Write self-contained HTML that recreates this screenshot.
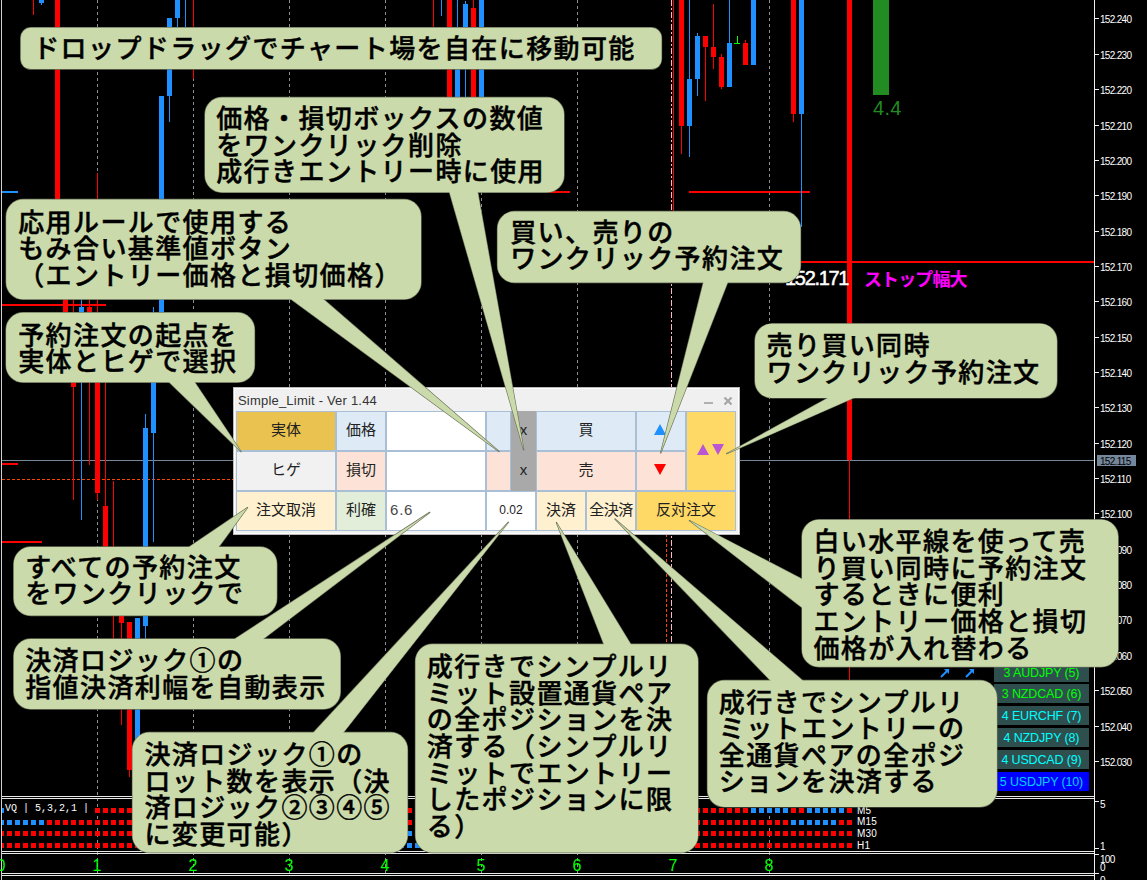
<!DOCTYPE html>
<html lang="ja"><head><meta charset="utf-8"><title>Simple_Limit</title>
<style>
html,body{margin:0;padding:0;background:#000;}
body{width:1147px;height:880px;position:relative;overflow:hidden;font-family:"Liberation Sans","Noto Sans CJK JP",sans-serif;}
#chart{position:absolute;left:0;top:0;}
.pl{position:absolute;left:1100px;color:#fff;font-size:10px;line-height:12px;letter-spacing:-0.7px;white-space:nowrap;}
.ax{position:absolute;top:856.5px;width:40px;margin-left:-20px;text-align:center;color:#00ff00;font-size:16px;line-height:18px;}
.tf{position:absolute;left:857px;color:#fff;font-size:10px;line-height:10px;letter-spacing:0.2px;}
.pair{position:absolute;left:994px;width:95px;height:19px;background:#2f4f4f;color:#00ff00;font-size:12.5px;line-height:20.5px;text-align:center;white-space:nowrap;letter-spacing:-0.15px;}
.pair.cy{color:#00ffff;}
.pair.bl{background:#0000ff;color:#00cfff;}
/* panel */
#panel{position:absolute;left:233px;top:387px;width:505px;height:146px;background:#f0f0f0;border:1px solid #b9b9b9;box-shadow:inset 0 0 0 1px #fff;}
#ptitle{position:absolute;left:4px;top:5px;font-size:13px;line-height:16px;color:#333;letter-spacing:0.2px;white-space:nowrap;}
.c{position:absolute;box-sizing:border-box;border:1px solid #a9bfd6;font-size:15px;color:#222;text-align:center;white-space:nowrap;font-family:"Liberation Sans","Noto Sans CJK JP",sans-serif;}
.r1{top:23px;height:40px;line-height:36px;}
.r2{top:63px;height:40px;line-height:36px;}
.r3{top:103px;height:40px;line-height:36px;}
.bub{position:absolute;left:0;top:0;}
.t{position:absolute;color:#000;font-family:"Liberation Sans","Noto Sans CJK JP",sans-serif;font-weight:500;font-size:26px;line-height:26.6px;white-space:nowrap;letter-spacing:1.4px;-webkit-text-stroke:0.45px #000;}
</style></head><body>
<svg id="chart" width="1147" height="880" viewBox="0 0 1147 880" shape-rendering="crispEdges">
<line x1="97.5" y1="0" x2="97.5" y2="874" stroke="#8a8f96" stroke-width="1" stroke-dasharray="3 3"/>
<line x1="193.5" y1="0" x2="193.5" y2="874" stroke="#8a8f96" stroke-width="1" stroke-dasharray="3 3"/>
<line x1="289.5" y1="0" x2="289.5" y2="874" stroke="#8a8f96" stroke-width="1" stroke-dasharray="3 3"/>
<line x1="385.5" y1="0" x2="385.5" y2="874" stroke="#8a8f96" stroke-width="1" stroke-dasharray="3 3"/>
<line x1="481.5" y1="0" x2="481.5" y2="874" stroke="#8a8f96" stroke-width="1" stroke-dasharray="3 3"/>
<line x1="577.5" y1="0" x2="577.5" y2="874" stroke="#8a8f96" stroke-width="1" stroke-dasharray="3 3"/>
<line x1="769.5" y1="0" x2="769.5" y2="874" stroke="#8a8f96" stroke-width="1" stroke-dasharray="3 3"/>
<line x1="671.5" y1="0" x2="671.5" y2="796" stroke="#ffb6c1" stroke-width="1" stroke-dasharray="6 2 2 2"/>
<line x1="666.5" y1="534" x2="666.5" y2="796" stroke="#ff4500" stroke-width="1" stroke-dasharray="3 2"/>
<rect x="2" y="460" width="1092" height="1" fill="#778899"/>
<line x1="2" y1="479.5" x2="240" y2="479.5" stroke="#ff4500" stroke-width="1" stroke-dasharray="3 2"/>
<rect x="800" y="261" width="294" height="2" fill="#ff0000"/>
<rect x="689" y="191" width="121" height="2" fill="#ff0000"/>
<rect x="549" y="191" width="21" height="2" fill="#ff0000"/>
<rect x="2" y="304" width="104" height="2" fill="#ff0000"/>
<rect x="2" y="463" width="16" height="2" fill="#ff0000"/>
<rect x="2" y="541" width="40" height="2" fill="#ff0000"/>
<rect x="2" y="191" width="16" height="2" fill="#1e90ff"/>
<rect x="33" y="0" width="1" height="15" fill="#ff0000"/>
<rect x="39" y="0" width="5" height="3" fill="#1e90ff"/>
<rect x="41" y="0" width="1" height="5" fill="#1e90ff"/>
<rect x="55" y="0" width="5" height="199" fill="#ff0000"/>
<rect x="97" y="173" width="1" height="26" fill="#ff0000"/>
<rect x="167" y="18" width="5" height="78" fill="#1e90ff"/>
<rect x="169" y="18" width="1" height="104" fill="#1e90ff"/>
<rect x="175" y="0" width="5" height="18" fill="#1e90ff"/>
<rect x="177" y="0" width="1" height="27" fill="#1e90ff"/>
<rect x="185" y="0" width="1" height="27" fill="#1e90ff"/>
<rect x="193" y="0" width="1" height="79" fill="#ff0000"/>
<rect x="159" y="96" width="5" height="234" fill="#1e90ff"/>
<rect x="63" y="299" width="5" height="13" fill="#ff0000"/>
<rect x="73" y="299" width="1" height="201" fill="#ff0000"/>
<rect x="71" y="380" width="5" height="7" fill="#ff0000"/>
<rect x="81" y="299" width="1" height="221" fill="#1e90ff"/>
<rect x="79" y="307" width="5" height="5" fill="#1e90ff"/>
<rect x="89" y="299" width="1" height="166" fill="#ff0000"/>
<rect x="87" y="307" width="5" height="5" fill="#ff0000"/>
<rect x="97" y="299" width="1" height="201" fill="#ff0000"/>
<rect x="95" y="380" width="5" height="113" fill="#ff0000"/>
<rect x="105" y="380" width="1" height="126" fill="#ff0000"/>
<rect x="103" y="506" width="5" height="44" fill="#ff0000"/>
<rect x="113" y="481" width="1" height="159" fill="#ff0000"/>
<rect x="119" y="616" width="5" height="7" fill="#ff0000"/>
<rect x="121" y="616" width="1" height="109" fill="#ff0000"/>
<rect x="127" y="622" width="5" height="148" fill="#ff0000"/>
<rect x="129" y="622" width="1" height="155" fill="#ff0000"/>
<rect x="135" y="618" width="5" height="122" fill="#1e90ff"/>
<rect x="143" y="428" width="5" height="198" fill="#1e90ff"/>
<rect x="145" y="414" width="1" height="226" fill="#1e90ff"/>
<rect x="151" y="380" width="5" height="53" fill="#1e90ff"/>
<rect x="153" y="307" width="1" height="235" fill="#1e90ff"/>
<rect x="433" y="0" width="1" height="27" fill="#ff0000"/>
<rect x="441" y="0" width="1" height="16" fill="#1e90ff"/>
<rect x="447" y="0" width="5" height="97" fill="#ff0000"/>
<rect x="457" y="0" width="1" height="27" fill="#1e90ff"/>
<rect x="455" y="69" width="5" height="28" fill="#1e90ff"/>
<rect x="463" y="4" width="5" height="23" fill="#1e90ff"/>
<rect x="465" y="1" width="1" height="96" fill="#1e90ff"/>
<rect x="471" y="8" width="5" height="89" fill="#ff0000"/>
<rect x="473" y="0" width="1" height="97" fill="#ff0000"/>
<rect x="479" y="0" width="5" height="97" fill="#1e90ff"/>
<rect x="673" y="0" width="1" height="215" fill="#ff0000"/>
<rect x="679" y="0" width="5" height="126" fill="#ff0000"/>
<rect x="681" y="0" width="1" height="154" fill="#ff0000"/>
<rect x="687" y="79" width="5" height="47" fill="#1e90ff"/>
<rect x="689" y="0" width="1" height="157" fill="#1e90ff"/>
<rect x="695" y="36" width="5" height="43" fill="#1e90ff"/>
<rect x="697" y="33" width="1" height="63" fill="#1e90ff"/>
<rect x="703" y="36" width="5" height="11" fill="#ff0000"/>
<rect x="705" y="36" width="1" height="65" fill="#ff0000"/>
<rect x="711" y="47" width="5" height="10" fill="#ff0000"/>
<rect x="713" y="4" width="1" height="65" fill="#ff0000"/>
<rect x="719" y="57" width="5" height="30" fill="#ff0000"/>
<rect x="721" y="54" width="1" height="35" fill="#ff0000"/>
<rect x="727" y="43" width="5" height="44" fill="#1e90ff"/>
<rect x="729" y="0" width="1" height="87" fill="#1e90ff"/>
<rect x="743" y="43" width="5" height="22" fill="#ff0000"/>
<rect x="745" y="40" width="1" height="25" fill="#ff0000"/>
<rect x="751" y="0" width="5" height="65" fill="#1e90ff"/>
<rect x="791" y="0" width="5" height="114" fill="#ff0000"/>
<rect x="793" y="0" width="1" height="122" fill="#ff0000"/>
<rect x="799" y="0" width="5" height="114" fill="#1e90ff"/>
<rect x="801" y="0" width="1" height="227" fill="#1e90ff"/>
<rect x="847" y="0" width="5" height="460" fill="#ff0000"/>
<rect x="849" y="460" width="1" height="230" fill="#ff0000"/>
<rect x="737" y="36" width="1" height="8" fill="#00ff00"/>
<rect x="734" y="43" width="6" height="1" fill="#00ff00"/>
<rect x="873" y="0" width="16" height="95" fill="#228b22"/>
<rect x="-1" y="808" width="5" height="5" fill="#1e90ff"/>
<rect x="95" y="808" width="5" height="5" fill="#ff0000"/>
<rect x="103" y="808" width="5" height="5" fill="#ff0000"/>
<rect x="111" y="808" width="5" height="5" fill="#ff0000"/>
<rect x="119" y="808" width="5" height="5" fill="#ff0000"/>
<rect x="127" y="808" width="5" height="5" fill="#ff0000"/>
<rect x="135" y="808" width="5" height="5" fill="#ff0000"/>
<rect x="143" y="808" width="5" height="5" fill="#ff0000"/>
<rect x="151" y="808" width="5" height="5" fill="#ff0000"/>
<rect x="159" y="808" width="5" height="5" fill="#ff0000"/>
<rect x="167" y="808" width="5" height="5" fill="#ff0000"/>
<rect x="175" y="808" width="5" height="5" fill="#ff0000"/>
<rect x="183" y="808" width="5" height="5" fill="#ff0000"/>
<rect x="191" y="808" width="5" height="5" fill="#ff0000"/>
<rect x="199" y="808" width="5" height="5" fill="#ff0000"/>
<rect x="207" y="808" width="5" height="5" fill="#ff0000"/>
<rect x="215" y="808" width="5" height="5" fill="#ff0000"/>
<rect x="223" y="808" width="5" height="5" fill="#ff0000"/>
<rect x="231" y="808" width="5" height="5" fill="#ff0000"/>
<rect x="239" y="808" width="5" height="5" fill="#ff0000"/>
<rect x="247" y="808" width="5" height="5" fill="#ff0000"/>
<rect x="255" y="808" width="5" height="5" fill="#ff0000"/>
<rect x="263" y="808" width="5" height="5" fill="#ff0000"/>
<rect x="271" y="808" width="5" height="5" fill="#ff0000"/>
<rect x="279" y="808" width="5" height="5" fill="#ff0000"/>
<rect x="287" y="808" width="5" height="5" fill="#ff0000"/>
<rect x="295" y="808" width="5" height="5" fill="#ff0000"/>
<rect x="303" y="808" width="5" height="5" fill="#ff0000"/>
<rect x="311" y="808" width="5" height="5" fill="#ff0000"/>
<rect x="319" y="808" width="5" height="5" fill="#ff0000"/>
<rect x="327" y="808" width="5" height="5" fill="#ff0000"/>
<rect x="335" y="808" width="5" height="5" fill="#ff0000"/>
<rect x="343" y="808" width="5" height="5" fill="#ff0000"/>
<rect x="351" y="808" width="5" height="5" fill="#ff0000"/>
<rect x="359" y="808" width="5" height="5" fill="#ff0000"/>
<rect x="367" y="808" width="5" height="5" fill="#ff0000"/>
<rect x="375" y="808" width="5" height="5" fill="#ff0000"/>
<rect x="383" y="808" width="5" height="5" fill="#ff0000"/>
<rect x="391" y="808" width="5" height="5" fill="#ff0000"/>
<rect x="399" y="808" width="5" height="5" fill="#ff0000"/>
<rect x="407" y="808" width="5" height="5" fill="#ff0000"/>
<rect x="415" y="808" width="5" height="5" fill="#ff0000"/>
<rect x="423" y="808" width="5" height="5" fill="#ff0000"/>
<rect x="431" y="808" width="5" height="5" fill="#ff0000"/>
<rect x="439" y="808" width="5" height="5" fill="#ff0000"/>
<rect x="447" y="808" width="5" height="5" fill="#ff0000"/>
<rect x="455" y="808" width="5" height="5" fill="#ff0000"/>
<rect x="463" y="808" width="5" height="5" fill="#ff0000"/>
<rect x="471" y="808" width="5" height="5" fill="#ff0000"/>
<rect x="479" y="808" width="5" height="5" fill="#ff0000"/>
<rect x="487" y="808" width="5" height="5" fill="#ff0000"/>
<rect x="495" y="808" width="5" height="5" fill="#ff0000"/>
<rect x="503" y="808" width="5" height="5" fill="#ff0000"/>
<rect x="511" y="808" width="5" height="5" fill="#ff0000"/>
<rect x="519" y="808" width="5" height="5" fill="#ff0000"/>
<rect x="527" y="808" width="5" height="5" fill="#ff0000"/>
<rect x="535" y="808" width="5" height="5" fill="#ff0000"/>
<rect x="543" y="808" width="5" height="5" fill="#ff0000"/>
<rect x="551" y="808" width="5" height="5" fill="#ff0000"/>
<rect x="559" y="808" width="5" height="5" fill="#ff0000"/>
<rect x="567" y="808" width="5" height="5" fill="#ff0000"/>
<rect x="575" y="808" width="5" height="5" fill="#ff0000"/>
<rect x="583" y="808" width="5" height="5" fill="#ff0000"/>
<rect x="591" y="808" width="5" height="5" fill="#ff0000"/>
<rect x="599" y="808" width="5" height="5" fill="#ff0000"/>
<rect x="607" y="808" width="5" height="5" fill="#ff0000"/>
<rect x="615" y="808" width="5" height="5" fill="#ff0000"/>
<rect x="623" y="808" width="5" height="5" fill="#ff0000"/>
<rect x="631" y="808" width="5" height="5" fill="#ff0000"/>
<rect x="639" y="808" width="5" height="5" fill="#ff0000"/>
<rect x="647" y="808" width="5" height="5" fill="#ff0000"/>
<rect x="655" y="808" width="5" height="5" fill="#ff0000"/>
<rect x="663" y="808" width="5" height="5" fill="#ff0000"/>
<rect x="671" y="808" width="5" height="5" fill="#ff0000"/>
<rect x="679" y="808" width="5" height="5" fill="#ff0000"/>
<rect x="687" y="808" width="5" height="5" fill="#ff0000"/>
<rect x="695" y="808" width="5" height="5" fill="#ff0000"/>
<rect x="703" y="808" width="5" height="5" fill="#ff0000"/>
<rect x="711" y="808" width="5" height="5" fill="#ff0000"/>
<rect x="719" y="808" width="5" height="5" fill="#ff0000"/>
<rect x="727" y="808" width="5" height="5" fill="#ff0000"/>
<rect x="735" y="808" width="5" height="5" fill="#ff0000"/>
<rect x="743" y="808" width="5" height="5" fill="#ff0000"/>
<rect x="751" y="808" width="5" height="5" fill="#1e90ff"/>
<rect x="759" y="808" width="5" height="5" fill="#1e90ff"/>
<rect x="767" y="808" width="5" height="5" fill="#1e90ff"/>
<rect x="775" y="808" width="5" height="5" fill="#1e90ff"/>
<rect x="783" y="808" width="5" height="5" fill="#1e90ff"/>
<rect x="791" y="808" width="5" height="5" fill="#ff0000"/>
<rect x="799" y="808" width="5" height="5" fill="#ff0000"/>
<rect x="807" y="808" width="5" height="5" fill="#1e90ff"/>
<rect x="815" y="808" width="5" height="5" fill="#1e90ff"/>
<rect x="823" y="808" width="5" height="5" fill="#1e90ff"/>
<rect x="831" y="808" width="5" height="5" fill="#1e90ff"/>
<rect x="839" y="808" width="5" height="5" fill="#1e90ff"/>
<rect x="847" y="808" width="5" height="5" fill="#ff0000"/>
<rect x="-1" y="820" width="5" height="5" fill="#1e90ff"/>
<rect x="7" y="820" width="5" height="5" fill="#1e90ff"/>
<rect x="15" y="820" width="5" height="5" fill="#1e90ff"/>
<rect x="23" y="820" width="5" height="5" fill="#1e90ff"/>
<rect x="31" y="820" width="5" height="5" fill="#1e90ff"/>
<rect x="39" y="820" width="5" height="5" fill="#1e90ff"/>
<rect x="47" y="820" width="5" height="5" fill="#ff0000"/>
<rect x="55" y="820" width="5" height="5" fill="#ff0000"/>
<rect x="63" y="820" width="5" height="5" fill="#ff0000"/>
<rect x="71" y="820" width="5" height="5" fill="#ff0000"/>
<rect x="79" y="820" width="5" height="5" fill="#ff0000"/>
<rect x="87" y="820" width="5" height="5" fill="#ff0000"/>
<rect x="95" y="820" width="5" height="5" fill="#ff0000"/>
<rect x="103" y="820" width="5" height="5" fill="#ff0000"/>
<rect x="111" y="820" width="5" height="5" fill="#ff0000"/>
<rect x="119" y="820" width="5" height="5" fill="#ff0000"/>
<rect x="127" y="820" width="5" height="5" fill="#ff0000"/>
<rect x="135" y="820" width="5" height="5" fill="#ff0000"/>
<rect x="143" y="820" width="5" height="5" fill="#ff0000"/>
<rect x="151" y="820" width="5" height="5" fill="#ff0000"/>
<rect x="159" y="820" width="5" height="5" fill="#ff0000"/>
<rect x="167" y="820" width="5" height="5" fill="#ff0000"/>
<rect x="175" y="820" width="5" height="5" fill="#ff0000"/>
<rect x="183" y="820" width="5" height="5" fill="#ff0000"/>
<rect x="191" y="820" width="5" height="5" fill="#ff0000"/>
<rect x="199" y="820" width="5" height="5" fill="#ff0000"/>
<rect x="207" y="820" width="5" height="5" fill="#ff0000"/>
<rect x="215" y="820" width="5" height="5" fill="#ff0000"/>
<rect x="223" y="820" width="5" height="5" fill="#ff0000"/>
<rect x="231" y="820" width="5" height="5" fill="#ff0000"/>
<rect x="239" y="820" width="5" height="5" fill="#ff0000"/>
<rect x="247" y="820" width="5" height="5" fill="#ff0000"/>
<rect x="255" y="820" width="5" height="5" fill="#ff0000"/>
<rect x="263" y="820" width="5" height="5" fill="#ff0000"/>
<rect x="271" y="820" width="5" height="5" fill="#ff0000"/>
<rect x="279" y="820" width="5" height="5" fill="#ff0000"/>
<rect x="287" y="820" width="5" height="5" fill="#ff0000"/>
<rect x="295" y="820" width="5" height="5" fill="#ff0000"/>
<rect x="303" y="820" width="5" height="5" fill="#ff0000"/>
<rect x="311" y="820" width="5" height="5" fill="#ff0000"/>
<rect x="319" y="820" width="5" height="5" fill="#ff0000"/>
<rect x="327" y="820" width="5" height="5" fill="#ff0000"/>
<rect x="335" y="820" width="5" height="5" fill="#ff0000"/>
<rect x="343" y="820" width="5" height="5" fill="#ff0000"/>
<rect x="351" y="820" width="5" height="5" fill="#ff0000"/>
<rect x="359" y="820" width="5" height="5" fill="#ff0000"/>
<rect x="367" y="820" width="5" height="5" fill="#ff0000"/>
<rect x="375" y="820" width="5" height="5" fill="#ff0000"/>
<rect x="383" y="820" width="5" height="5" fill="#ff0000"/>
<rect x="391" y="820" width="5" height="5" fill="#ff0000"/>
<rect x="399" y="820" width="5" height="5" fill="#ff0000"/>
<rect x="407" y="820" width="5" height="5" fill="#ff0000"/>
<rect x="415" y="820" width="5" height="5" fill="#ff0000"/>
<rect x="423" y="820" width="5" height="5" fill="#ff0000"/>
<rect x="431" y="820" width="5" height="5" fill="#ff0000"/>
<rect x="439" y="820" width="5" height="5" fill="#ff0000"/>
<rect x="447" y="820" width="5" height="5" fill="#ff0000"/>
<rect x="455" y="820" width="5" height="5" fill="#ff0000"/>
<rect x="463" y="820" width="5" height="5" fill="#ff0000"/>
<rect x="471" y="820" width="5" height="5" fill="#ff0000"/>
<rect x="479" y="820" width="5" height="5" fill="#ff0000"/>
<rect x="487" y="820" width="5" height="5" fill="#ff0000"/>
<rect x="495" y="820" width="5" height="5" fill="#ff0000"/>
<rect x="503" y="820" width="5" height="5" fill="#ff0000"/>
<rect x="511" y="820" width="5" height="5" fill="#ff0000"/>
<rect x="519" y="820" width="5" height="5" fill="#ff0000"/>
<rect x="527" y="820" width="5" height="5" fill="#ff0000"/>
<rect x="535" y="820" width="5" height="5" fill="#ff0000"/>
<rect x="543" y="820" width="5" height="5" fill="#ff0000"/>
<rect x="551" y="820" width="5" height="5" fill="#ff0000"/>
<rect x="559" y="820" width="5" height="5" fill="#ff0000"/>
<rect x="567" y="820" width="5" height="5" fill="#ff0000"/>
<rect x="575" y="820" width="5" height="5" fill="#ff0000"/>
<rect x="583" y="820" width="5" height="5" fill="#ff0000"/>
<rect x="591" y="820" width="5" height="5" fill="#ff0000"/>
<rect x="599" y="820" width="5" height="5" fill="#ff0000"/>
<rect x="607" y="820" width="5" height="5" fill="#ff0000"/>
<rect x="615" y="820" width="5" height="5" fill="#ff0000"/>
<rect x="623" y="820" width="5" height="5" fill="#ff0000"/>
<rect x="631" y="820" width="5" height="5" fill="#ff0000"/>
<rect x="639" y="820" width="5" height="5" fill="#ff0000"/>
<rect x="647" y="820" width="5" height="5" fill="#ff0000"/>
<rect x="655" y="820" width="5" height="5" fill="#ff0000"/>
<rect x="663" y="820" width="5" height="5" fill="#ff0000"/>
<rect x="671" y="820" width="5" height="5" fill="#ff0000"/>
<rect x="679" y="820" width="5" height="5" fill="#ff0000"/>
<rect x="687" y="820" width="5" height="5" fill="#ff0000"/>
<rect x="695" y="820" width="5" height="5" fill="#ff0000"/>
<rect x="703" y="820" width="5" height="5" fill="#ff0000"/>
<rect x="711" y="820" width="5" height="5" fill="#ff0000"/>
<rect x="719" y="820" width="5" height="5" fill="#ff0000"/>
<rect x="727" y="820" width="5" height="5" fill="#ff0000"/>
<rect x="735" y="820" width="5" height="5" fill="#ff0000"/>
<rect x="743" y="820" width="5" height="5" fill="#ff0000"/>
<rect x="751" y="820" width="5" height="5" fill="#ff0000"/>
<rect x="759" y="820" width="5" height="5" fill="#ff0000"/>
<rect x="767" y="820" width="5" height="5" fill="#ff0000"/>
<rect x="775" y="820" width="5" height="5" fill="#ff0000"/>
<rect x="783" y="820" width="5" height="5" fill="#ff0000"/>
<rect x="791" y="820" width="5" height="5" fill="#1e90ff"/>
<rect x="799" y="820" width="5" height="5" fill="#1e90ff"/>
<rect x="807" y="820" width="5" height="5" fill="#1e90ff"/>
<rect x="815" y="820" width="5" height="5" fill="#1e90ff"/>
<rect x="823" y="820" width="5" height="5" fill="#1e90ff"/>
<rect x="831" y="820" width="5" height="5" fill="#1e90ff"/>
<rect x="839" y="820" width="5" height="5" fill="#ff0000"/>
<rect x="847" y="820" width="5" height="5" fill="#ff0000"/>
<rect x="-1" y="831" width="5" height="5" fill="#ff0000"/>
<rect x="7" y="831" width="5" height="5" fill="#ff0000"/>
<rect x="15" y="831" width="5" height="5" fill="#ff0000"/>
<rect x="23" y="831" width="5" height="5" fill="#ff0000"/>
<rect x="31" y="831" width="5" height="5" fill="#ff0000"/>
<rect x="39" y="831" width="5" height="5" fill="#ff0000"/>
<rect x="47" y="831" width="5" height="5" fill="#ff0000"/>
<rect x="55" y="831" width="5" height="5" fill="#ff0000"/>
<rect x="63" y="831" width="5" height="5" fill="#ff0000"/>
<rect x="71" y="831" width="5" height="5" fill="#ff0000"/>
<rect x="79" y="831" width="5" height="5" fill="#ff0000"/>
<rect x="87" y="831" width="5" height="5" fill="#ff0000"/>
<rect x="95" y="831" width="5" height="5" fill="#ff0000"/>
<rect x="103" y="831" width="5" height="5" fill="#ff0000"/>
<rect x="111" y="831" width="5" height="5" fill="#ff0000"/>
<rect x="119" y="831" width="5" height="5" fill="#ff0000"/>
<rect x="127" y="831" width="5" height="5" fill="#ff0000"/>
<rect x="135" y="831" width="5" height="5" fill="#ff0000"/>
<rect x="143" y="831" width="5" height="5" fill="#ff0000"/>
<rect x="151" y="831" width="5" height="5" fill="#ff0000"/>
<rect x="159" y="831" width="5" height="5" fill="#ff0000"/>
<rect x="167" y="831" width="5" height="5" fill="#ff0000"/>
<rect x="175" y="831" width="5" height="5" fill="#ff0000"/>
<rect x="183" y="831" width="5" height="5" fill="#ff0000"/>
<rect x="191" y="831" width="5" height="5" fill="#ff0000"/>
<rect x="199" y="831" width="5" height="5" fill="#ff0000"/>
<rect x="207" y="831" width="5" height="5" fill="#ff0000"/>
<rect x="215" y="831" width="5" height="5" fill="#ff0000"/>
<rect x="223" y="831" width="5" height="5" fill="#ff0000"/>
<rect x="231" y="831" width="5" height="5" fill="#ff0000"/>
<rect x="239" y="831" width="5" height="5" fill="#ff0000"/>
<rect x="247" y="831" width="5" height="5" fill="#ff0000"/>
<rect x="255" y="831" width="5" height="5" fill="#ff0000"/>
<rect x="263" y="831" width="5" height="5" fill="#ff0000"/>
<rect x="271" y="831" width="5" height="5" fill="#ff0000"/>
<rect x="279" y="831" width="5" height="5" fill="#ff0000"/>
<rect x="287" y="831" width="5" height="5" fill="#ff0000"/>
<rect x="295" y="831" width="5" height="5" fill="#ff0000"/>
<rect x="303" y="831" width="5" height="5" fill="#ff0000"/>
<rect x="311" y="831" width="5" height="5" fill="#ff0000"/>
<rect x="319" y="831" width="5" height="5" fill="#ff0000"/>
<rect x="327" y="831" width="5" height="5" fill="#ff0000"/>
<rect x="335" y="831" width="5" height="5" fill="#ff0000"/>
<rect x="343" y="831" width="5" height="5" fill="#ff0000"/>
<rect x="351" y="831" width="5" height="5" fill="#ff0000"/>
<rect x="359" y="831" width="5" height="5" fill="#ff0000"/>
<rect x="367" y="831" width="5" height="5" fill="#ff0000"/>
<rect x="375" y="831" width="5" height="5" fill="#ff0000"/>
<rect x="383" y="831" width="5" height="5" fill="#ff0000"/>
<rect x="391" y="831" width="5" height="5" fill="#ff0000"/>
<rect x="399" y="831" width="5" height="5" fill="#ff0000"/>
<rect x="407" y="831" width="5" height="5" fill="#1e90ff"/>
<rect x="415" y="831" width="5" height="5" fill="#ff0000"/>
<rect x="423" y="831" width="5" height="5" fill="#ff0000"/>
<rect x="431" y="831" width="5" height="5" fill="#ff0000"/>
<rect x="439" y="831" width="5" height="5" fill="#ff0000"/>
<rect x="447" y="831" width="5" height="5" fill="#ff0000"/>
<rect x="455" y="831" width="5" height="5" fill="#ff0000"/>
<rect x="463" y="831" width="5" height="5" fill="#ff0000"/>
<rect x="471" y="831" width="5" height="5" fill="#ff0000"/>
<rect x="479" y="831" width="5" height="5" fill="#ff0000"/>
<rect x="487" y="831" width="5" height="5" fill="#ff0000"/>
<rect x="495" y="831" width="5" height="5" fill="#ff0000"/>
<rect x="503" y="831" width="5" height="5" fill="#ff0000"/>
<rect x="511" y="831" width="5" height="5" fill="#ff0000"/>
<rect x="519" y="831" width="5" height="5" fill="#ff0000"/>
<rect x="527" y="831" width="5" height="5" fill="#ff0000"/>
<rect x="535" y="831" width="5" height="5" fill="#ff0000"/>
<rect x="543" y="831" width="5" height="5" fill="#ff0000"/>
<rect x="551" y="831" width="5" height="5" fill="#ff0000"/>
<rect x="559" y="831" width="5" height="5" fill="#ff0000"/>
<rect x="567" y="831" width="5" height="5" fill="#ff0000"/>
<rect x="575" y="831" width="5" height="5" fill="#ff0000"/>
<rect x="583" y="831" width="5" height="5" fill="#ff0000"/>
<rect x="591" y="831" width="5" height="5" fill="#ff0000"/>
<rect x="599" y="831" width="5" height="5" fill="#ff0000"/>
<rect x="607" y="831" width="5" height="5" fill="#ff0000"/>
<rect x="615" y="831" width="5" height="5" fill="#ff0000"/>
<rect x="623" y="831" width="5" height="5" fill="#ff0000"/>
<rect x="631" y="831" width="5" height="5" fill="#ff0000"/>
<rect x="639" y="831" width="5" height="5" fill="#ff0000"/>
<rect x="647" y="831" width="5" height="5" fill="#ff0000"/>
<rect x="655" y="831" width="5" height="5" fill="#ff0000"/>
<rect x="663" y="831" width="5" height="5" fill="#ff0000"/>
<rect x="671" y="831" width="5" height="5" fill="#ff0000"/>
<rect x="679" y="831" width="5" height="5" fill="#ff0000"/>
<rect x="687" y="831" width="5" height="5" fill="#ff0000"/>
<rect x="695" y="831" width="5" height="5" fill="#ff0000"/>
<rect x="703" y="831" width="5" height="5" fill="#ff0000"/>
<rect x="711" y="831" width="5" height="5" fill="#ff0000"/>
<rect x="719" y="831" width="5" height="5" fill="#ff0000"/>
<rect x="727" y="831" width="5" height="5" fill="#ff0000"/>
<rect x="735" y="831" width="5" height="5" fill="#ff0000"/>
<rect x="743" y="831" width="5" height="5" fill="#ff0000"/>
<rect x="751" y="831" width="5" height="5" fill="#ff0000"/>
<rect x="759" y="831" width="5" height="5" fill="#ff0000"/>
<rect x="767" y="831" width="5" height="5" fill="#ff0000"/>
<rect x="775" y="831" width="5" height="5" fill="#ff0000"/>
<rect x="783" y="831" width="5" height="5" fill="#ff0000"/>
<rect x="791" y="831" width="5" height="5" fill="#ff0000"/>
<rect x="799" y="831" width="5" height="5" fill="#ff0000"/>
<rect x="807" y="831" width="5" height="5" fill="#ff0000"/>
<rect x="815" y="831" width="5" height="5" fill="#ff0000"/>
<rect x="823" y="831" width="5" height="5" fill="#ff0000"/>
<rect x="831" y="831" width="5" height="5" fill="#ff0000"/>
<rect x="839" y="831" width="5" height="5" fill="#ff0000"/>
<rect x="847" y="831" width="5" height="5" fill="#ff0000"/>
<rect x="-1" y="843" width="5" height="5" fill="#ff0000"/>
<rect x="7" y="843" width="5" height="5" fill="#ff0000"/>
<rect x="15" y="843" width="5" height="5" fill="#ff0000"/>
<rect x="23" y="843" width="5" height="5" fill="#ff0000"/>
<rect x="31" y="843" width="5" height="5" fill="#ff0000"/>
<rect x="39" y="843" width="5" height="5" fill="#ff0000"/>
<rect x="47" y="843" width="5" height="5" fill="#ff0000"/>
<rect x="55" y="843" width="5" height="5" fill="#ff0000"/>
<rect x="63" y="843" width="5" height="5" fill="#ff0000"/>
<rect x="71" y="843" width="5" height="5" fill="#ff0000"/>
<rect x="79" y="843" width="5" height="5" fill="#ff0000"/>
<rect x="87" y="843" width="5" height="5" fill="#ff0000"/>
<rect x="95" y="843" width="5" height="5" fill="#ff0000"/>
<rect x="103" y="843" width="5" height="5" fill="#ff0000"/>
<rect x="111" y="843" width="5" height="5" fill="#ff0000"/>
<rect x="119" y="843" width="5" height="5" fill="#ff0000"/>
<rect x="127" y="843" width="5" height="5" fill="#ff0000"/>
<rect x="135" y="843" width="5" height="5" fill="#ff0000"/>
<rect x="143" y="843" width="5" height="5" fill="#ff0000"/>
<rect x="151" y="843" width="5" height="5" fill="#ff0000"/>
<rect x="159" y="843" width="5" height="5" fill="#ff0000"/>
<rect x="167" y="843" width="5" height="5" fill="#ff0000"/>
<rect x="175" y="843" width="5" height="5" fill="#ff0000"/>
<rect x="183" y="843" width="5" height="5" fill="#ff0000"/>
<rect x="191" y="843" width="5" height="5" fill="#ff0000"/>
<rect x="199" y="843" width="5" height="5" fill="#ff0000"/>
<rect x="207" y="843" width="5" height="5" fill="#ff0000"/>
<rect x="215" y="843" width="5" height="5" fill="#ff0000"/>
<rect x="223" y="843" width="5" height="5" fill="#ff0000"/>
<rect x="231" y="843" width="5" height="5" fill="#ff0000"/>
<rect x="239" y="843" width="5" height="5" fill="#ff0000"/>
<rect x="247" y="843" width="5" height="5" fill="#ff0000"/>
<rect x="255" y="843" width="5" height="5" fill="#ff0000"/>
<rect x="263" y="843" width="5" height="5" fill="#ff0000"/>
<rect x="271" y="843" width="5" height="5" fill="#ff0000"/>
<rect x="279" y="843" width="5" height="5" fill="#ff0000"/>
<rect x="287" y="843" width="5" height="5" fill="#ff0000"/>
<rect x="295" y="843" width="5" height="5" fill="#ff0000"/>
<rect x="303" y="843" width="5" height="5" fill="#ff0000"/>
<rect x="311" y="843" width="5" height="5" fill="#ff0000"/>
<rect x="319" y="843" width="5" height="5" fill="#ff0000"/>
<rect x="327" y="843" width="5" height="5" fill="#ff0000"/>
<rect x="335" y="843" width="5" height="5" fill="#ff0000"/>
<rect x="343" y="843" width="5" height="5" fill="#ff0000"/>
<rect x="351" y="843" width="5" height="5" fill="#ff0000"/>
<rect x="359" y="843" width="5" height="5" fill="#ff0000"/>
<rect x="367" y="843" width="5" height="5" fill="#ff0000"/>
<rect x="375" y="843" width="5" height="5" fill="#ff0000"/>
<rect x="383" y="843" width="5" height="5" fill="#ff0000"/>
<rect x="391" y="843" width="5" height="5" fill="#ff0000"/>
<rect x="399" y="843" width="5" height="5" fill="#1e90ff"/>
<rect x="407" y="843" width="5" height="5" fill="#1e90ff"/>
<rect x="415" y="843" width="5" height="5" fill="#1e90ff"/>
<rect x="423" y="843" width="5" height="5" fill="#ff0000"/>
<rect x="431" y="843" width="5" height="5" fill="#ff0000"/>
<rect x="439" y="843" width="5" height="5" fill="#ff0000"/>
<rect x="447" y="843" width="5" height="5" fill="#ff0000"/>
<rect x="455" y="843" width="5" height="5" fill="#ff0000"/>
<rect x="463" y="843" width="5" height="5" fill="#ff0000"/>
<rect x="471" y="843" width="5" height="5" fill="#ff0000"/>
<rect x="479" y="843" width="5" height="5" fill="#ff0000"/>
<rect x="487" y="843" width="5" height="5" fill="#ff0000"/>
<rect x="495" y="843" width="5" height="5" fill="#ff0000"/>
<rect x="503" y="843" width="5" height="5" fill="#ff0000"/>
<rect x="511" y="843" width="5" height="5" fill="#ff0000"/>
<rect x="519" y="843" width="5" height="5" fill="#ff0000"/>
<rect x="527" y="843" width="5" height="5" fill="#ff0000"/>
<rect x="535" y="843" width="5" height="5" fill="#ff0000"/>
<rect x="543" y="843" width="5" height="5" fill="#ff0000"/>
<rect x="551" y="843" width="5" height="5" fill="#ff0000"/>
<rect x="559" y="843" width="5" height="5" fill="#ff0000"/>
<rect x="567" y="843" width="5" height="5" fill="#ff0000"/>
<rect x="575" y="843" width="5" height="5" fill="#ff0000"/>
<rect x="583" y="843" width="5" height="5" fill="#ff0000"/>
<rect x="591" y="843" width="5" height="5" fill="#ff0000"/>
<rect x="599" y="843" width="5" height="5" fill="#ff0000"/>
<rect x="607" y="843" width="5" height="5" fill="#ff0000"/>
<rect x="615" y="843" width="5" height="5" fill="#ff0000"/>
<rect x="623" y="843" width="5" height="5" fill="#ff0000"/>
<rect x="631" y="843" width="5" height="5" fill="#ff0000"/>
<rect x="639" y="843" width="5" height="5" fill="#ff0000"/>
<rect x="647" y="843" width="5" height="5" fill="#ff0000"/>
<rect x="655" y="843" width="5" height="5" fill="#ff0000"/>
<rect x="663" y="843" width="5" height="5" fill="#ff0000"/>
<rect x="671" y="843" width="5" height="5" fill="#ff0000"/>
<rect x="679" y="843" width="5" height="5" fill="#ff0000"/>
<rect x="687" y="843" width="5" height="5" fill="#ff0000"/>
<rect x="695" y="843" width="5" height="5" fill="#ff0000"/>
<rect x="703" y="843" width="5" height="5" fill="#ff0000"/>
<rect x="711" y="843" width="5" height="5" fill="#ff0000"/>
<rect x="719" y="843" width="5" height="5" fill="#ff0000"/>
<rect x="727" y="843" width="5" height="5" fill="#ff0000"/>
<rect x="735" y="843" width="5" height="5" fill="#ff0000"/>
<rect x="743" y="843" width="5" height="5" fill="#ff0000"/>
<rect x="751" y="843" width="5" height="5" fill="#ff0000"/>
<rect x="759" y="843" width="5" height="5" fill="#ff0000"/>
<rect x="767" y="843" width="5" height="5" fill="#ff0000"/>
<rect x="775" y="843" width="5" height="5" fill="#ff0000"/>
<rect x="783" y="843" width="5" height="5" fill="#ff0000"/>
<rect x="791" y="843" width="5" height="5" fill="#ff0000"/>
<rect x="799" y="843" width="5" height="5" fill="#ff0000"/>
<rect x="807" y="843" width="5" height="5" fill="#ff0000"/>
<rect x="815" y="843" width="5" height="5" fill="#ff0000"/>
<rect x="823" y="843" width="5" height="5" fill="#ff0000"/>
<rect x="831" y="843" width="5" height="5" fill="#ff0000"/>
<rect x="839" y="843" width="5" height="5" fill="#ff0000"/>
<rect x="847" y="843" width="5" height="5" fill="#ff0000"/>
<rect x="1" y="796" width="1094" height="1" fill="#e8e8e8"/>
<rect x="1" y="798" width="1094" height="1" fill="#e8e8e8"/>
<rect x="1" y="851" width="1094" height="1" fill="#e8e8e8"/>
<rect x="1" y="853" width="1094" height="1" fill="#e8e8e8"/>
<rect x="1" y="873" width="1094" height="1" fill="#e8e8e8"/>
<rect x="1" y="875" width="1094" height="1" fill="#e8e8e8"/>
<rect x="1" y="0" width="1" height="880" fill="#d0d0d0"/>
<rect x="1094" y="0" width="1" height="880" fill="#f0f0f0"/>
<rect x="0" y="0" width="1" height="880" fill="#000"/>
<rect x="1095" y="18" width="4" height="1" fill="#f0f0f0"/>
<rect x="1095" y="54" width="4" height="1" fill="#f0f0f0"/>
<rect x="1095" y="89" width="4" height="1" fill="#f0f0f0"/>
<rect x="1095" y="125" width="4" height="1" fill="#f0f0f0"/>
<rect x="1095" y="160" width="4" height="1" fill="#f0f0f0"/>
<rect x="1095" y="195" width="4" height="1" fill="#f0f0f0"/>
<rect x="1095" y="231" width="4" height="1" fill="#f0f0f0"/>
<rect x="1095" y="266" width="4" height="1" fill="#f0f0f0"/>
<rect x="1095" y="301" width="4" height="1" fill="#f0f0f0"/>
<rect x="1095" y="337" width="4" height="1" fill="#f0f0f0"/>
<rect x="1095" y="372" width="4" height="1" fill="#f0f0f0"/>
<rect x="1095" y="407" width="4" height="1" fill="#f0f0f0"/>
<rect x="1095" y="443" width="4" height="1" fill="#f0f0f0"/>
<rect x="1095" y="478" width="4" height="1" fill="#f0f0f0"/>
<rect x="1095" y="513" width="4" height="1" fill="#f0f0f0"/>
<rect x="1095" y="549" width="4" height="1" fill="#f0f0f0"/>
<rect x="1095" y="584" width="4" height="1" fill="#f0f0f0"/>
<rect x="1095" y="619" width="4" height="1" fill="#f0f0f0"/>
<rect x="1095" y="655" width="4" height="1" fill="#f0f0f0"/>
<rect x="1095" y="690" width="4" height="1" fill="#f0f0f0"/>
<rect x="1095" y="726" width="4" height="1" fill="#f0f0f0"/>
<rect x="1095" y="761" width="4" height="1" fill="#f0f0f0"/>
<rect x="1095" y="801" width="4" height="1" fill="#f0f0f0"/>
<rect x="1095" y="848" width="4" height="1" fill="#f0f0f0"/>
<rect x="1095" y="854" width="4" height="1" fill="#f0f0f0"/>
<rect x="1095" y="873" width="4" height="1" fill="#f0f0f0"/>
</svg>
<div class="pl" style="top:14.0px">152.240</div>
<div class="pl" style="top:49.5px">152.230</div>
<div class="pl" style="top:84.5px">152.220</div>
<div class="pl" style="top:120.5px">152.210</div>
<div class="pl" style="top:155.5px">152.200</div>
<div class="pl" style="top:190.5px">152.190</div>
<div class="pl" style="top:226.5px">152.180</div>
<div class="pl" style="top:261.5px">152.170</div>
<div class="pl" style="top:297.0px">152.160</div>
<div class="pl" style="top:332.5px">152.150</div>
<div class="pl" style="top:367.5px">152.140</div>
<div class="pl" style="top:403.0px">152.130</div>
<div class="pl" style="top:438.5px">152.120</div>
<div class="pl" style="top:474.0px">152.110</div>
<div class="pl" style="top:509.0px">152.100</div>
<div class="pl" style="top:544.5px">152.090</div>
<div class="pl" style="top:580.0px">152.080</div>
<div class="pl" style="top:615.0px">152.070</div>
<div class="pl" style="top:650.5px">152.060</div>
<div class="pl" style="top:686.0px">152.050</div>
<div class="pl" style="top:721.5px">152.040</div>
<div class="pl" style="top:756.5px">152.030</div>
<div class="pl" style="top:455px;left:1097px;width:39px;height:11px;background:#74879c;color:#000;line-height:13px;text-indent:3px;">152.115</div>
<div class="pl" style="top:798.5px;left:1100px;">5</div>
<div class="pl" style="top:841px;left:1100px;">1</div>
<div class="pl" style="top:853.5px;left:1100px;">100</div>
<div class="pl" style="top:862px;left:1100px;">0</div>
<div class="pl" style="top:875px;left:1100px;">0</div>
<div style="position:absolute;left:873px;top:97px;color:#228b22;font-size:20px;line-height:22px;letter-spacing:0.3px;">4.4</div>
<div style="position:absolute;left:785px;top:267px;color:#fff;font-size:20px;line-height:22px;letter-spacing:-1.3px;-webkit-text-stroke:0.5px #fff;">152.171</div>
<div style="position:absolute;left:864px;top:268px;color:#ff00ff;font-size:18px;letter-spacing:-0.9px;line-height:24px;font-weight:700;font-family:'Liberation Sans','Noto Sans CJK JP',sans-serif;white-space:nowrap;">ストップ幅大</div>
<div style="position:absolute;left:5px;top:803px;color:#fff;font-size:10px;line-height:12px;font-family:'Liberation Mono',monospace;white-space:pre;letter-spacing:0px;">VQ | 5,3,2,1 |</div>
<div class="ax" style="left:1px">0</div>
<div class="ax" style="left:97px">1</div>
<div class="ax" style="left:193px">2</div>
<div class="ax" style="left:289px">3</div>
<div class="ax" style="left:385px">4</div>
<div class="ax" style="left:481px">5</div>
<div class="ax" style="left:577px">6</div>
<div class="ax" style="left:673px">7</div>
<div class="ax" style="left:769px">8</div>
<div class="tf" style="top:806px">M5</div>
<div class="tf" style="top:817px">M15</div>
<div class="tf" style="top:829px">M30</div>
<div class="tf" style="top:841px">H1</div>
<div class="pair " style="top:663px">3 AUDJPY (5)</div>
<div class="pair " style="top:684px">3 NZDCAD (6)</div>
<div class="pair cy" style="top:706px">4 EURCHF (7)</div>
<div class="pair cy" style="top:728px">4 NZDJPY (8)</div>
<div class="pair cy" style="top:750px">4 USDCAD (9)</div>
<div class="pair bl" style="top:772px">5 USDJPY (10)</div>
<svg style="position:absolute;left:940px;top:667px" width="40" height="12" viewBox="0 0 40 12"><g stroke="#1e90ff" stroke-width="2" fill="#1e90ff"><path d="M1 10 L8 3"/><path d="M4 2 L9 2 L9 7 Z" stroke="none"/><path d="M26 10 L33 3"/><path d="M29 2 L34 2 L34 7 Z" stroke="none"/></g></svg>
<div id="panel"><div id="ptitle">Simple_Limit - Ver 1.44</div>
<div style="position:absolute;left:470px;top:14px;width:9px;height:2px;background:#b0b0b0"></div><svg style="position:absolute;left:489px;top:8px" width="10" height="10" viewBox="0 0 10 10"><path d="M1.5 1.5 L8.5 8.5 M8.5 1.5 L1.5 8.5" stroke="#a8a8a8" stroke-width="2.4" fill="none"/></svg>
<div class="c r1" style="left:2px;width:100px;background:#e9c24f;">実体</div>
<div class="c r2" style="left:2px;width:100px;background:#f1f1f1;">ヒゲ</div>
<div class="c r3" style="left:2px;width:100px;background:#fff1cf;">注文取消</div>
<div class="c r1" style="left:102px;width:50px;background:#deeaf6;">価格</div>
<div class="c r2" style="left:102px;width:50px;background:#fde3d7;">損切</div>
<div class="c r3" style="left:102px;width:50px;background:#e2eeda;">利確</div>
<div class="c r1" style="left:152px;width:100px;background:#fff;"></div>
<div class="c r2" style="left:152px;width:100px;background:#fff;"></div>
<div class="c r3" style="left:152px;width:100px;background:#fff;text-align:left;padding-left:3px;font-size:15px;color:#484848;letter-spacing:0.8px;">6.6</div>
<div class="c r1" style="left:252px;width:25px;background:#deeaf6;"></div>
<div class="c r2" style="left:252px;width:25px;background:#fde3d7;"></div>
<div class="c r1" style="left:277px;width:25px;background:#a9a9a9;border-color:#a9a9a9;">x</div>
<div class="c r2" style="left:277px;width:25px;background:#a9a9a9;border-color:#a9a9a9;">x</div>
<div class="c r3" style="left:252px;width:50px;background:#fff;font-size:12px;">0.02</div>
<div class="c r1" style="left:302px;width:100px;background:#deeaf6;">買</div>
<div class="c r2" style="left:302px;width:100px;background:#fde3d7;">売</div>
<div class="c r3" style="left:302px;width:50px;background:#fff1cf;">決済</div>
<div class="c r3" style="left:352px;width:50px;background:#fff1cf;letter-spacing:-0.5px;">全決済</div>
<div class="c r1" style="left:402px;width:50px;background:#deeaf6;"><svg width="12" height="11" viewBox="0 0 12 11" style="position:absolute;left:17px;top:12px"><path d="M6 0 L12 11 L0 11 Z" fill="#1e90ff"/></svg></div>
<div class="c r2" style="left:402px;width:50px;background:#fde3d7;"><svg width="12" height="11" viewBox="0 0 12 11" style="position:absolute;left:17px;top:12px"><path d="M0 0 L12 0 L6 11 Z" fill="#ff0000"/></svg></div>
<div class="c r3" style="left:402px;width:100px;background:#ffd966;">反対注文</div>
<div class="c" style="left:452px;width:50px;top:23px;height:80px;background:#ffd966;"><svg width="28" height="11" viewBox="0 0 28 11" style="position:absolute;left:10px;top:32px"><path d="M6 0 L12 11 L0 11 Z" fill="#ba55d3"/><path d="M15 0 L27 0 L21 11 Z" fill="#ba55d3"/></svg></div>
</div>
<svg class="bub" width="1147" height="880" viewBox="0 0 1147 880">
<g fill="#cadaaa" stroke="#6d745c" stroke-width="1.3" stroke-linejoin="round"><rect x="20.8" y="27.7" width="640.7" height="41.39999999999999" rx="10" ry="10"/></g>
<g fill="#cadaaa" stroke="#6d745c" stroke-width="1.3" stroke-linejoin="round"><rect x="205.0" y="97.5" width="359.0" height="94.80000000000001" rx="17" ry="17"/><polygon points="448.32,188.00 476.92,187.88 523.70,449.80"/></g>
<g fill="#cadaaa" stroke="#6d745c" stroke-width="1.3" stroke-linejoin="round"><rect x="6.2" y="199.5" width="414.8" height="99.69999999999999" rx="17" ry="17"/><polygon points="287.77,296.74 320.22,296.42 499.00,451.60"/></g>
<g fill="#cadaaa" stroke="#6d745c" stroke-width="1.3" stroke-linejoin="round"><rect x="497.5" y="211.5" width="303.0" height="71.0" rx="17" ry="17"/><polygon points="704.52,278.15 729.23,278.35 660.70,453.00"/></g>
<g fill="#cadaaa" stroke="#6d745c" stroke-width="1.3" stroke-linejoin="round"><rect x="6.1" y="312.7" width="248.4" height="69.5" rx="17" ry="17"/><polygon points="166.21,379.22 192.12,378.54 241.00,451.60"/></g>
<g fill="#cadaaa" stroke="#6d745c" stroke-width="1.3" stroke-linejoin="round"><rect x="13.8" y="547.0" width="263.0" height="68.5" rx="17" ry="17"/><polygon points="185.86,549.30 216.04,550.53 247.50,507.60"/></g>
<g fill="#cadaaa" stroke="#6d745c" stroke-width="1.3" stroke-linejoin="round"><rect x="13.8" y="639.0" width="326.5" height="70.0" rx="17" ry="17"/><polygon points="231.41,641.22 259.82,641.53 429.70,512.40"/></g>
<g fill="#cadaaa" stroke="#6d745c" stroke-width="1.3" stroke-linejoin="round"><rect x="132.5" y="732.5" width="275.0" height="120.0" rx="17" ry="17"/><polygon points="310.60,735.67 340.61,735.93 508.40,522.20"/></g>
<g fill="#cadaaa" stroke="#6d745c" stroke-width="1.3" stroke-linejoin="round"><rect x="755.0" y="323.8" width="301.9000000000001" height="74.09999999999997" rx="17" ry="17"/><polygon points="831.58,396.09 856.88,396.49 726.60,453.70"/></g>
<g fill="#cadaaa" stroke="#6d745c" stroke-width="1.3" stroke-linejoin="round"><rect x="415.5" y="644.2" width="282.5" height="208.29999999999995" rx="17" ry="17"/><polygon points="605.52,648.36 633.01,647.97 556.40,522.50"/></g>
<g fill="#cadaaa" stroke="#6d745c" stroke-width="1.3" stroke-linejoin="round"><rect x="707.5" y="680.5" width="289.4" height="126.39999999999998" rx="17" ry="17"/><polygon points="773.87,684.00 806.29,683.66 615.00,519.00"/></g>
<g fill="#cadaaa" stroke="#6d745c" stroke-width="1.3" stroke-linejoin="round"><rect x="802.0" y="519.8" width="316.0999999999999" height="147.0" rx="17" ry="17"/><polygon points="805.74,581.06 805.26,609.95 689.40,520.60"/></g>
<g fill="#cadaaa"><rect x="20.8" y="27.7" width="640.7" height="41.39999999999999" rx="10" ry="10"/></g>
<g fill="#cadaaa"><rect x="205.0" y="97.5" width="359.0" height="94.80000000000001" rx="17" ry="17"/><polygon points="448.32,188.00 476.92,187.88 523.70,449.80"/></g>
<g fill="#cadaaa"><rect x="6.2" y="199.5" width="414.8" height="99.69999999999999" rx="17" ry="17"/><polygon points="287.77,296.74 320.22,296.42 499.00,451.60"/></g>
<g fill="#cadaaa"><rect x="497.5" y="211.5" width="303.0" height="71.0" rx="17" ry="17"/><polygon points="704.52,278.15 729.23,278.35 660.70,453.00"/></g>
<g fill="#cadaaa"><rect x="6.1" y="312.7" width="248.4" height="69.5" rx="17" ry="17"/><polygon points="166.21,379.22 192.12,378.54 241.00,451.60"/></g>
<g fill="#cadaaa"><rect x="13.8" y="547.0" width="263.0" height="68.5" rx="17" ry="17"/><polygon points="185.86,549.30 216.04,550.53 247.50,507.60"/></g>
<g fill="#cadaaa"><rect x="13.8" y="639.0" width="326.5" height="70.0" rx="17" ry="17"/><polygon points="231.41,641.22 259.82,641.53 429.70,512.40"/></g>
<g fill="#cadaaa"><rect x="132.5" y="732.5" width="275.0" height="120.0" rx="17" ry="17"/><polygon points="310.60,735.67 340.61,735.93 508.40,522.20"/></g>
<g fill="#cadaaa"><rect x="755.0" y="323.8" width="301.9000000000001" height="74.09999999999997" rx="17" ry="17"/><polygon points="831.58,396.09 856.88,396.49 726.60,453.70"/></g>
<g fill="#cadaaa"><rect x="415.5" y="644.2" width="282.5" height="208.29999999999995" rx="17" ry="17"/><polygon points="605.52,648.36 633.01,647.97 556.40,522.50"/></g>
<g fill="#cadaaa"><rect x="707.5" y="680.5" width="289.4" height="126.39999999999998" rx="17" ry="17"/><polygon points="773.87,684.00 806.29,683.66 615.00,519.00"/></g>
<g fill="#cadaaa"><rect x="802.0" y="519.8" width="316.0999999999999" height="147.0" rx="17" ry="17"/><polygon points="805.74,581.06 805.26,609.95 689.40,520.60"/></g>
</svg>
<div class="t" style="left:33.2px;top:36.3px">ドロップドラッグでチャート場を自在に移動可能</div>
<div class="t" style="left:216.2px;top:106.3px">価格・損切ボックスの数値<br>をワンクリック削除<br>成行きエントリー時に使用</div>
<div class="t" style="left:18.2px;top:209.8px">応用ルールで使用する<br>もみ合い基準値ボタン<br>（エントリー価格と損切価格）</div>
<div class="t" style="left:510.2px;top:219.5px">買い、売りの<br>ワンクリック予約注文</div>
<div class="t" style="left:18.2px;top:322.8px">予約注文の起点を<br>実体とヒゲで選択</div>
<div class="t" style="left:25.2px;top:554.5px">すべての予約注文<br>をワンクリックで</div>
<div class="t" style="left:25.2px;top:648.4px">決済ロジック①の<br>指値決済利幅を自動表示</div>
<div class="t" style="left:144.39999999999998px;top:742.0px">決済ロジック①の<br>ロット数を表示（決<br>済ロジック②③④⑤<br>に変更可能）</div>
<div class="t" style="left:766.5px;top:333.3px">売り買い同時<br>ワンクリック予約注文</div>
<div class="t" style="left:426.8px;top:654.3px">成行きでシンプルリ<br>ミット設置通貨ペア<br>の全ポジションを決<br>済する（シンプルリ<br>ミットでエントリー<br>したポジションに限<br>る）</div>
<div class="t" style="left:718.8000000000001px;top:689.5999999999999px">成行きでシンプルリ<br>ミットエントリーの<br>全通貨ペアの全ポジ<br>ションを決済する</div>
<div class="t" style="left:813.4000000000001px;top:529.1999999999999px">白い水平線を使って売<br>り買い同時に予約注文<br>するときに便利<br>エントリー価格と損切<br>価格が入れ替わる</div>
</body></html>
